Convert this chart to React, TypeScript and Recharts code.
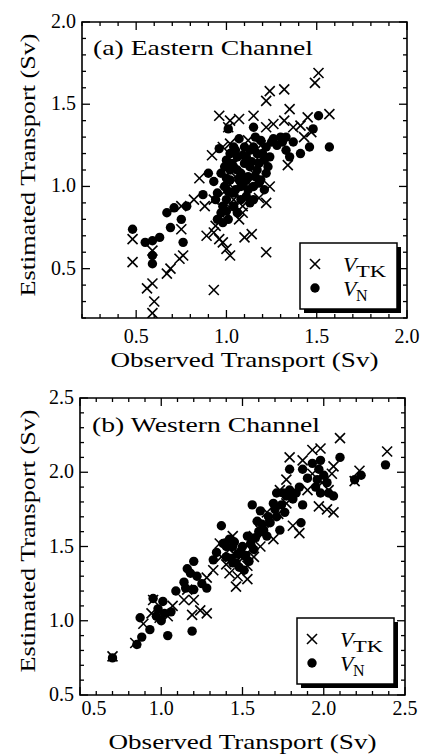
import { ScatterChart, Scatter, XAxis, YAxis, ReferenceArea, Legend } from 'recharts';

const FONT = '"Liberation Serif", "Times New Roman", serif';

// (a) Eastern Channel: [observed, estimated]
const eastTK: [number, number][] = [
  [1.51, 1.69], [1.49, 1.63], [1.57, 1.44], [1.45, 1.42], [1.35, 1.47], [1.32, 1.59], [1.24, 1.58], [1.22, 1.52],
  [1.15, 1.43], [1.07, 1.41], [1.02, 1.40], [0.96, 1.43], [1.01, 1.36], [1.22, 1.36], [1.26, 1.38], [1.32, 1.40],
  [1.37, 1.36], [1.41, 1.37], [1.47, 1.33], [1.34, 1.13], [1.43, 1.30], [0.92, 1.19], [0.98, 1.24], [1.02, 1.26],
  [1.19, 1.25], [0.85, 1.05], [0.82, 0.92], [0.88, 0.88], [0.93, 0.92], [0.94, 0.76], [0.96, 0.68], [0.98, 0.66],
  [1.00, 0.62], [1.02, 0.58], [1.07, 0.80], [1.10, 0.69], [1.14, 0.71], [1.22, 0.60], [1.18, 0.93], [1.22, 0.90],
  [1.24, 1.00], [1.09, 0.88], [1.03, 0.86], [0.75, 0.88], [0.75, 0.74], [0.76, 0.58], [0.74, 0.56], [0.69, 0.50],
  [0.67, 0.47], [0.59, 0.61], [0.48, 0.54], [0.48, 0.68], [0.56, 0.38], [0.59, 0.41], [0.60, 0.30], [0.59, 0.23],
  [0.93, 0.37], [1.09, 0.84], [0.89, 0.70], [0.93, 0.72], [1.04, 0.92], [1.15, 1.08], [1.08, 1.18], [1.12, 1.28],
  [1.02, 1.01], [0.98, 0.82], [1.05, 1.06], [1.12, 1.02], [1.18, 1.18], [0.99, 0.97],
];
const eastN: [number, number][] = [
  [1.57, 1.24], [1.51, 1.43], [1.48, 1.35], [1.46, 1.24], [1.41, 1.20], [1.37, 1.27], [1.33, 1.30], [1.30, 1.30],
  [1.26, 1.29], [1.33, 1.22], [1.35, 1.18], [1.15, 1.36], [1.01, 1.35], [1.07, 1.29], [0.96, 1.23], [0.90, 1.08],
  [0.93, 1.03], [0.87, 0.95], [0.78, 0.88], [0.71, 0.87], [0.67, 0.84], [0.69, 0.75], [0.75, 0.80], [0.76, 0.66],
  [0.63, 0.69], [0.59, 0.67], [0.55, 0.66], [0.59, 0.58], [0.59, 0.53], [0.48, 0.74], [0.97, 0.84], [0.95, 0.80],
  [0.98, 0.88], [1.00, 0.92], [1.04, 0.96], [1.08, 1.00], [1.11, 0.94], [1.15, 1.00], [1.19, 1.04], [1.22, 1.08],
  [1.21, 1.16], [1.17, 1.20], [1.22, 1.24], [1.04, 1.12], [1.08, 1.08], [1.02, 1.04], [1.10, 1.14], [1.13, 1.12],
  [1.17, 1.10], [1.11, 1.18], [1.06, 1.18], [1.00, 1.16], [1.02, 1.10], [0.97, 1.08], [0.99, 1.00], [0.95, 0.96],
  [1.04, 1.24], [1.19, 1.28], [1.10, 1.24], [1.15, 1.24], [1.21, 0.98], [1.24, 1.18], [1.02, 1.20], [1.11, 1.04],
  [1.15, 0.92], [1.08, 0.92], [1.00, 1.05], [1.03, 1.14], [1.06, 1.10], [1.09, 1.02], [1.12, 1.06], [1.14, 1.15],
  [1.16, 1.06], [1.18, 1.14], [1.20, 1.20], [1.05, 0.98], [1.07, 1.04], [1.12, 0.98], [1.04, 0.88], [1.00, 0.85],
  [0.98, 0.78], [1.01, 0.80], [1.23, 1.12], [1.25, 1.27], [1.28, 1.25], [1.13, 1.22], [1.09, 1.19], [1.05, 1.22],
  [0.99, 1.12], [1.18, 1.02], [1.13, 0.90], [1.06, 0.84], [0.94, 0.92], [1.01, 0.97], [1.16, 1.30], [1.31, 1.27],
];

// (b) Western Channel
const westTK: [number, number][] = [
  [2.10, 2.23], [2.39, 2.14], [2.22, 2.01], [2.19, 1.94], [1.98, 2.16], [1.93, 2.15], [1.87, 2.08], [1.79, 2.10],
  [2.05, 1.99], [2.06, 1.73], [2.02, 1.75], [1.97, 1.77], [1.85, 1.59], [1.81, 1.64], [1.77, 1.95], [1.73, 1.88],
  [1.65, 1.73], [1.69, 1.55], [1.61, 1.50], [1.57, 1.43], [1.53, 1.28], [1.46, 1.23], [1.42, 1.32], [1.37, 1.43],
  [1.36, 1.52], [1.53, 1.37], [1.57, 1.57], [1.28, 1.29], [1.28, 1.05], [1.24, 1.07], [1.19, 1.04], [1.20, 1.14],
  [1.16, 1.21], [1.14, 1.14], [1.07, 1.10], [1.04, 1.03], [0.99, 1.02], [0.94, 1.05], [0.89, 0.98], [0.84, 0.85],
  [0.70, 0.76], [0.95, 1.14], [1.42, 1.48], [1.44, 1.57], [1.49, 1.43], [1.77, 1.79], [1.90, 1.88], [2.03, 1.88],
  [1.99, 1.93], [1.93, 1.99], [1.63, 1.66], [1.61, 1.61], [1.32, 1.34], [2.06, 2.04], [1.45, 1.45], [1.50, 1.42],
  [1.55, 1.48], [1.62, 1.58], [1.72, 1.72], [1.80, 1.85], [1.47, 1.30], [1.40, 1.38],
];
const westN: [number, number][] = [
  [2.38, 2.05], [2.10, 2.10], [2.23, 1.98], [2.19, 1.95], [1.56, 1.78], [1.37, 1.64], [1.20, 1.40], [1.19, 0.93],
  [1.04, 0.90], [0.70, 0.75], [0.85, 0.84], [0.88, 0.89], [0.87, 1.02], [0.93, 0.94], [0.95, 1.15], [1.01, 1.13],
  [0.97, 1.03], [1.02, 1.05], [1.09, 1.20], [1.14, 1.26], [1.18, 1.32], [1.22, 1.30], [1.28, 1.22], [1.20, 1.21],
  [1.34, 1.46], [1.38, 1.52], [1.42, 1.55], [1.44, 1.50], [1.49, 1.47], [1.46, 1.39], [1.51, 1.34], [1.54, 1.40],
  [1.57, 1.48], [1.59, 1.67], [1.63, 1.61], [1.65, 1.57], [1.67, 1.66], [1.71, 1.70], [1.73, 1.61], [1.71, 1.86],
  [1.75, 1.86], [1.79, 2.02], [1.79, 1.88], [1.81, 1.82], [1.85, 1.90], [1.87, 1.78], [1.86, 1.66], [1.87, 2.02],
  [1.93, 2.06], [1.97, 2.02], [1.98, 2.08], [1.96, 1.95], [2.02, 1.93], [1.98, 1.86], [2.03, 1.86], [2.06, 1.84],
  [1.61, 1.74], [1.40, 1.43], [1.44, 1.39], [1.53, 1.57], [1.69, 1.79], [1.76, 1.73], [1.32, 1.41], [1.16, 1.35],
  [1.40, 1.50], [1.45, 1.53], [1.47, 1.45], [1.50, 1.50], [1.43, 1.42], [1.48, 1.36], [1.52, 1.44], [1.55, 1.52],
  [1.58, 1.56], [1.60, 1.60], [1.62, 1.65], [1.66, 1.70], [1.70, 1.75], [1.74, 1.78], [1.77, 1.84], [1.83, 1.86],
  [1.90, 1.96], [1.95, 1.90], [2.00, 1.98], [1.25, 1.25], [1.15, 1.22], [1.00, 1.00], [0.98, 1.08], [1.06, 1.06],
];

const eastTicks = [0.2, 0.3, 0.4, 0.5, 0.6, 0.7, 0.8, 0.9, 1.0, 1.1, 1.2, 1.3, 1.4, 1.5, 1.6, 1.7, 1.8, 1.9, 2.0];
const eastLabels = [0.5, 1.0, 1.5, 2.0];
const westTicks = [0.5, 0.6, 0.7, 0.8, 0.9, 1.0, 1.1, 1.2, 1.3, 1.4, 1.5, 1.6, 1.7, 1.8, 1.9, 2.0, 2.1, 2.2, 2.3, 2.4, 2.5];
const westLabels = [0.5, 1.0, 1.5, 2.0, 2.5];

const toPoints = (arr: [number, number][]) => arr.map(([x, y]) => ({ x, y }));

const CrossMark = (p: any) => (
  <g stroke="#000" strokeWidth={1.6}>
    <line x1={p.cx - 5} y1={p.cy - 5} x2={p.cx + 5} y2={p.cy + 5} />
    <line x1={p.cx - 5} y1={p.cy + 5} x2={p.cx + 5} y2={p.cy - 5} />
  </g>
);
const DotMark = (p: any) => <circle cx={p.cx} cy={p.cy} r={4.7} fill="#000" />;

const LegendBox = () => (
  <svg width={104} height={74} style={{ display: 'block' }}>
    <rect x={5} y={5} width={97} height={66} fill="#000" />
    <rect x={1} y={1} width={97} height={66} fill="#fff" stroke="#000" strokeWidth={1.5} />
    <CrossMark cx={16} cy={22} />
    <DotMark cx={16} cy={46} />
    <text x={44} y={30} fontFamily={FONT} fontSize={22} fontStyle="italic">V</text>
    <text x={57} y={35} fontFamily={FONT} fontSize={16} textLength={30} lengthAdjust="spacingAndGlyphs">TK</text>
    <text x={44} y={54} fontFamily={FONT} fontSize={22} fontStyle="italic">V</text>
    <text x={57} y={59} fontFamily={FONT} fontSize={16}>N</text>
  </svg>
);

type PanelProps = {
  top: number;
  height: number;
  margin: { top: number; right: number; bottom: number; left: number };
  yAxisWidth: number;
  domain: [number, number];
  ticks: number[];
  labels: number[];
  tk: [number, number][];
  n: [number, number][];
  title: string;
  titleX: number;
  titleY: number;
  titleLen: number;
  xLabelGap: number;
  firstXLabelShift: number;
  xTitleY: number;
  yTitleCY: number;
  legendLeft: number;
  legendTop: number;
};

const W = 425;
const X_AXIS_H = 60;

function Panel(props: PanelProps) {
  const { top, height, margin, yAxisWidth, domain, ticks, labels } = props;
  const plotTop = margin.top;
  const plotLeft = margin.left + yAxisWidth;
  const plotRight = W - margin.right;
  const isMajor = (v: number) => labels.some((l) => Math.abs(l - v) < 1e-6);

  const XTick = ({ x, y, payload }: any) => {
    const major = isMajor(payload.value);
    const len = major ? 8 : 4;
    const shift = Math.abs(payload.value - domain[0]) < 1e-6 ? props.firstXLabelShift : 0;
    return (
      <g>
        <line x1={x} y1={y} x2={x} y2={y - len} stroke="#000" strokeWidth={1.3} />
        <line x1={x} y1={plotTop} x2={x} y2={plotTop + len} stroke="#000" strokeWidth={1.3} />
        {major && (
          <text x={x + shift} y={y + props.xLabelGap} textAnchor="middle" fontFamily={FONT} fontSize={20} fill="#000">
            {payload.value.toFixed(1)}
          </text>
        )}
      </g>
    );
  };

  const YTick = ({ x, y, payload }: any) => {
    const major = isMajor(payload.value);
    const len = major ? 8 : 4;
    return (
      <g>
        <line x1={x} y1={y} x2={x + len} y2={y} stroke="#000" strokeWidth={1.3} />
        <line x1={plotRight} y1={y} x2={plotRight - len} y2={y} stroke="#000" strokeWidth={1.3} />
        {major && (
          <text x={x - 6} y={y + 6} textAnchor="end" fontFamily={FONT} fontSize={20} fill="#000">
            {payload.value.toFixed(1)}
          </text>
        )}
      </g>
    );
  };

  return (
    <div style={{ position: 'absolute', left: 0, top, width: W, height }}>
      <ScatterChart width={W} height={height} margin={margin}>
        <XAxis
          type="number"
          dataKey="x"
          domain={domain}
          ticks={ticks}
          interval={0}
          allowDataOverflow
          height={X_AXIS_H}
          tickSize={0}
          tickMargin={0}
          tickLine={false}
          axisLine={false}
          tick={XTick}
          label={{
            content: () => (
              <text
                x={(plotLeft + plotRight) / 2}
                y={props.xTitleY}
                textAnchor="middle"
                fontFamily={FONT}
                fontSize={22}
                textLength={268}
                lengthAdjust="spacingAndGlyphs"
                fill="#000"
              >
                Observed Transport (Sv)
              </text>
            ),
          }}
        />
        <YAxis
          type="number"
          dataKey="y"
          domain={domain}
          ticks={ticks}
          interval={0}
          allowDataOverflow
          width={yAxisWidth}
          tickSize={0}
          tickMargin={0}
          tickLine={false}
          axisLine={false}
          tick={YTick}
          label={{
            content: () => (
              <text
                x={35}
                y={props.yTitleCY}
                transform={`rotate(-90 35 ${props.yTitleCY})`}
                textAnchor="middle"
                fontFamily={FONT}
                fontSize={22}
                textLength={263}
                lengthAdjust="spacingAndGlyphs"
                fill="#000"
              >
                Estimated Transport (Sv)
              </text>
            ),
          }}
        />
        <ReferenceArea
          x1={domain[0]}
          x2={domain[1]}
          y1={domain[0]}
          y2={domain[1]}
          fill="none"
          fillOpacity={0}
          stroke="#000"
          strokeWidth={1.6}
          label={{
            content: () => (
              <text
                x={props.titleX}
                y={props.titleY}
                fontFamily={FONT}
                fontSize={22}
                textLength={props.titleLen}
                lengthAdjust="spacingAndGlyphs"
                fill="#000"
              >
                {props.title}
              </text>
            ),
          }}
        />
        <Scatter data={toPoints(props.tk)} shape={CrossMark} isAnimationActive={false} />
        <Scatter data={toPoints(props.n)} shape={DotMark} isAnimationActive={false} />
        <Legend
          layout="horizontal"
          align="center"
          verticalAlign="middle"
          content={() => <LegendBox />}
          wrapperStyle={{ left: props.legendLeft, top: props.legendTop, width: 104, height: 74, bottom: 'auto' }}
        />
      </ScatterChart>
    </div>
  );
}

export default function App() {
  return (
    <div style={{ position: 'absolute', left: 0, top: 0, width: W, height: 755, background: '#fff' }}>
      <Panel
        top={0}
        height={380}
        margin={{ top: 22, right: 18, bottom: 2, left: 0 }}
        yAxisWidth={82}
        domain={[0.2, 2.0]}
        ticks={eastTicks}
        labels={eastLabels}
        tk={eastTK}
        n={eastN}
        title="(a) Eastern Channel"
        titleX={93}
        titleY={55}
        titleLen={220}
        xLabelGap={25}
        firstXLabelShift={0}
        xTitleY={367}
        yTitleCY={165}
        legendLeft={299}
        legendTop={242}
      />
      <Panel
        top={380}
        height={375}
        margin={{ top: 18, right: 20, bottom: 0, left: 0 }}
        yAxisWidth={80}
        domain={[0.5, 2.5]}
        ticks={westTicks}
        labels={westLabels}
        tk={westTK}
        n={westN}
        title="(b) Western Channel"
        titleX={92}
        titleY={52}
        titleLen={228}
        xLabelGap={20}
        firstXLabelShift={14}
        xTitleY={369}
        yTitleCY={161}
        legendLeft={296}
        legendTop={237}
      />
    </div>
  );
}
